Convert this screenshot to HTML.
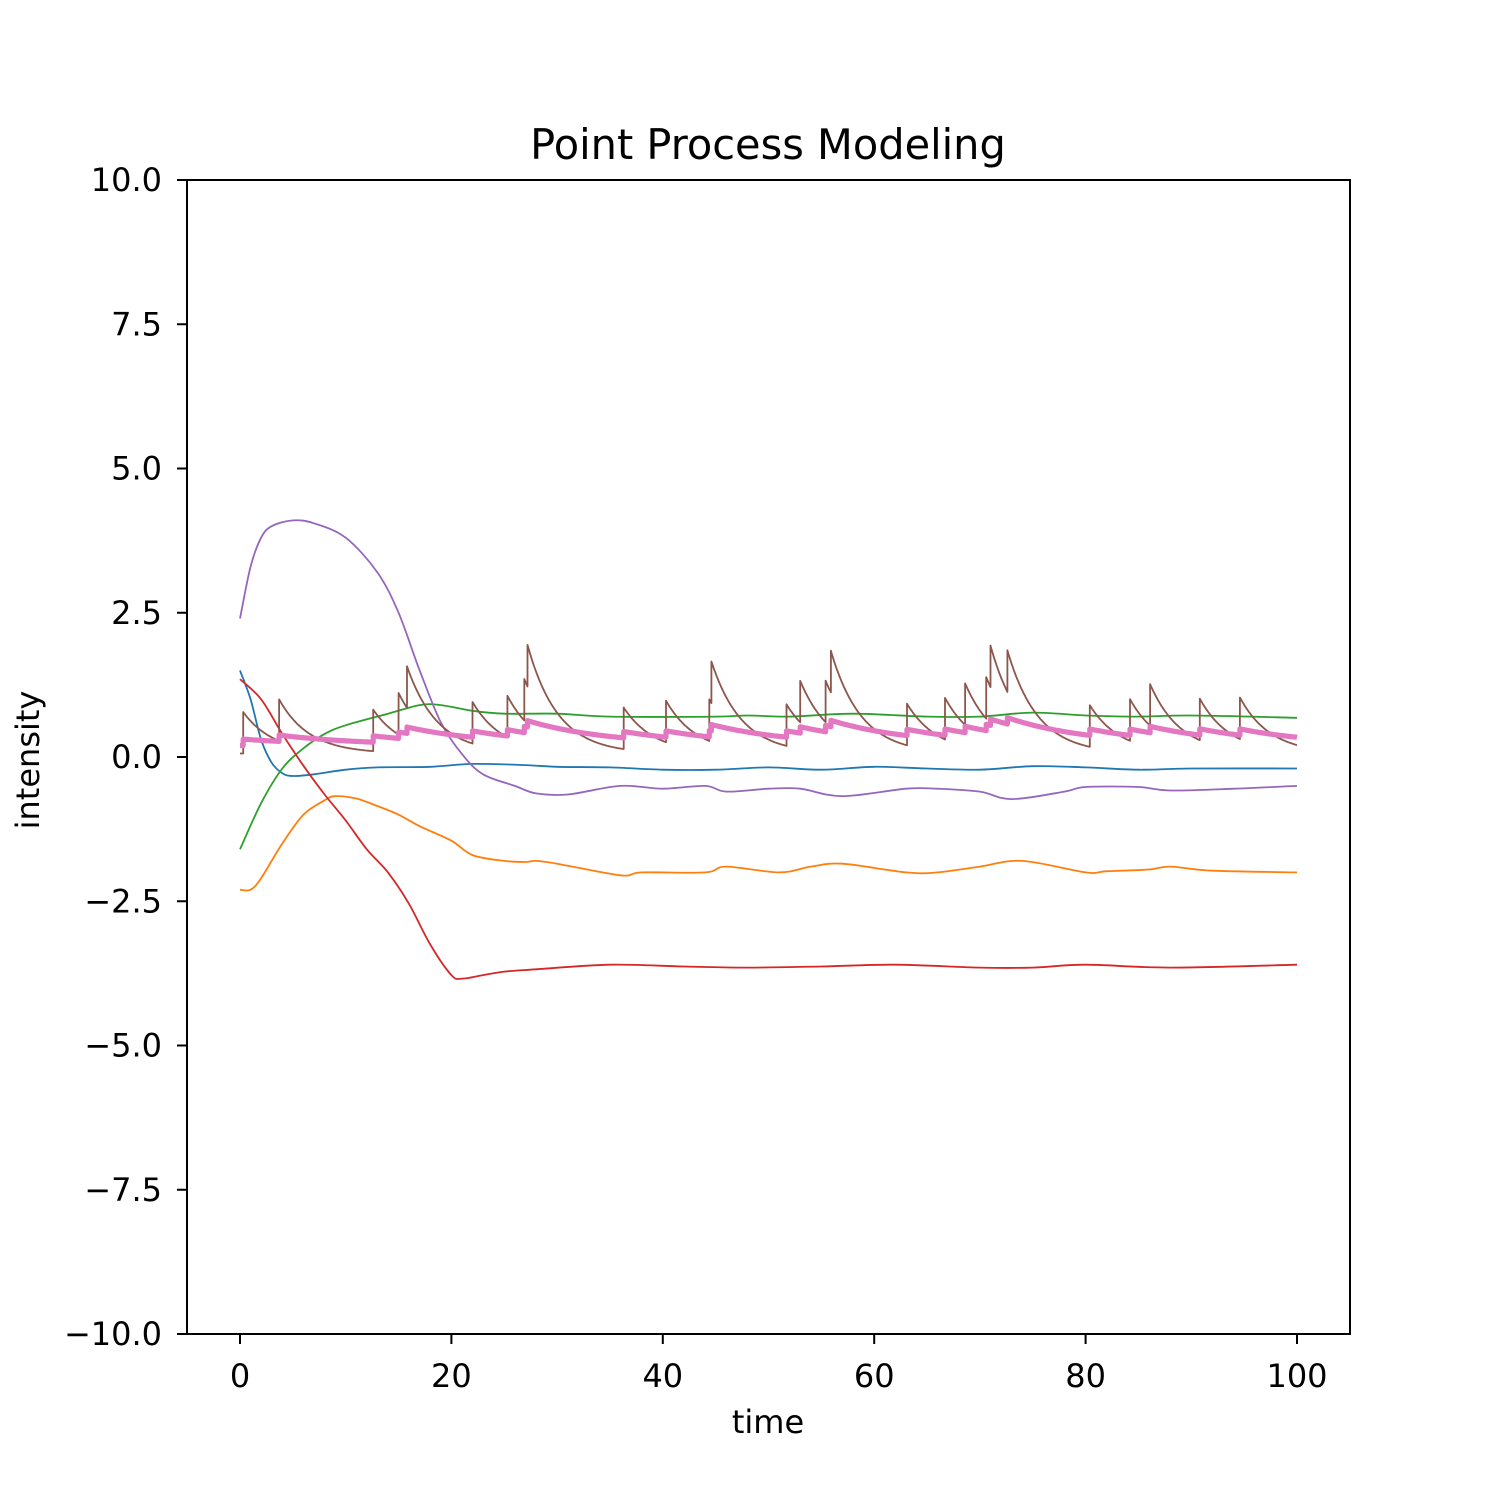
<!DOCTYPE html>
<html><head><meta charset="utf-8"><style>body{margin:0;background:#fff}svg text{font-family:"DejaVu Sans","Liberation Sans",sans-serif}</style></head>
<body>
<svg id="chart" width="1500" height="1500" xmlns="http://www.w3.org/2000/svg">
<rect width="1500" height="1500" fill="#fff"/>
<text x="768" y="159" font-size="41.5" text-anchor="middle">Point Process Modeling</text>
<g id="plot"></g>
<g id="axes"></g>
<text x="768" y="1433" font-size="32" text-anchor="middle">time</text>
<text x="39" y="760" font-size="32" text-anchor="middle" transform="rotate(-90 39 760)">intensity</text>
</svg>
<script>
const xTicks=[0,20,40,60,80,100];
const yTicks=[10,7.5,5,2.5,0,-2.5,-5,-7.5,-10];
const yTickLabels=["10.0","7.5","5.0","2.5","0.0","\u22122.5","\u22125.0","\u22127.5","\u221210.0"];
const blue=[[0,1.5],[1,1.0],[2,0.3],[3,-0.1],[4,-0.28],[5,-0.33],[7,-0.3],[10,-0.22],[13,-0.18],[18,-0.17],[22,-0.12],[27,-0.14],[30,-0.17],[35,-0.18],[40,-0.22],[45,-0.22],[50,-0.18],[55,-0.22],[60,-0.17],[65,-0.2],[70,-0.22],[75,-0.16],[80,-0.18],[85,-0.22],[90,-0.2],[100,-0.2]];
const orange=[[0,-2.3],[1,-2.3],[2,-2.1],[4,-1.5],[6,-1.0],[8,-0.75],[9,-0.68],[11,-0.72],[13,-0.85],[15,-1.0],[17,-1.2],[20,-1.45],[22,-1.7],[25,-1.8],[27,-1.82],[28,-1.8],[30,-1.85],[36,-2.05],[38,-2.0],[44,-2.0],[46,-1.9],[51,-2.0],[54,-1.9],[57,-1.85],[63,-2.0],[66,-2.0],[70,-1.9],[74,-1.8],[80,-2.0],[82,-1.98],[86,-1.95],[88,-1.9],[92,-1.97],[100,-2.0]];
const green=[[0,-1.6],[2,-0.8],[4,-0.2],[6,0.15],[8,0.4],[10,0.55],[14,0.75],[17,0.9],[19,0.9],[22,0.8],[25,0.75],[30,0.75],[35,0.7],[45,0.7],[48,0.72],[52,0.7],[58,0.75],[65,0.7],[70,0.7],[75,0.77],[80,0.72],[85,0.7],[90,0.72],[100,0.68]];
const red=[[0,1.35],[2,1.0],[4,0.4],[6,-0.15],[8,-0.65],[10,-1.1],[12,-1.6],[14,-2.0],[16,-2.55],[18,-3.25],[20,-3.78],[21,-3.84],[23,-3.78],[25,-3.72],[28,-3.68],[35,-3.6],[42,-3.63],[48,-3.65],[55,-3.63],[62,-3.6],[70,-3.65],[75,-3.65],[80,-3.6],[88,-3.65],[100,-3.6]];
const purple=[[0,2.4],[1,3.3],[2,3.8],[3,4.0],[5,4.1],[7,4.05],[10,3.8],[13,3.2],[15,2.5],[17,1.5],[19,0.6],[21,0.05],[23,-0.3],[26,-0.5],[28,-0.63],[31,-0.65],[36,-0.5],[40,-0.55],[44,-0.5],[46,-0.6],[50,-0.55],[53,-0.55],[57,-0.68],[63,-0.55],[66,-0.55],[70,-0.6],[73,-0.73],[78,-0.6],[80,-0.52],[85,-0.52],[88,-0.58],[94,-0.55],[100,-0.5]];
const events=[0.3,3.7,12.6,15.0,15.8,22.0,25.3,26.9,27.2,36.3,40.3,44.4,44.6,51.7,53.0,55.4,55.9,63.1,66.7,68.6,70.6,71.0,72.6,80.4,84.2,86.1,90.8,94.6];
const brownParams=[0.06,0.72,0.35];
const pinkParams=[0.2,0.11,0.13];
const X=t=>240+t*10.57, Y=v=>757-v*57.7;
const NS="http://www.w3.org/2000/svg";
const plot=document.getElementById('plot'), axes=document.getElementById('axes');
function path(d,color,w,name){
 const p=document.createElementNS(NS,'path');
 p.setAttribute('d',d);
 p.setAttribute('fill','none');p.setAttribute('stroke',color);p.setAttribute('stroke-width',w);p.setAttribute('stroke-linejoin','round');
 
 
 plot.appendChild(p);
}
function smooth(pts,color,w,name){
 const P=pts.map(q=>[X(q[0]),Y(q[1])]);
 let d='M'+P[0][0].toFixed(1)+','+P[0][1].toFixed(1);
 for(let i=0;i<P.length-1;i++){
  const p0=P[Math.max(0,i-1)],p1=P[i],p2=P[i+1],p3=P[Math.min(P.length-1,i+2)];
  const c1=[p1[0]+(p2[0]-p0[0])/6,p1[1]+(p2[1]-p0[1])/6],c2=[p2[0]-(p3[0]-p1[0])/6,p2[1]-(p3[1]-p1[1])/6];
  d+='C'+c1.map(v=>v.toFixed(1)).join(',')+' '+c2.map(v=>v.toFixed(1)).join(',')+' '+p2.map(v=>v.toFixed(1)).join(',');
 }
 path(d,color,w,name);
}
function hawkes(par,color,w,name){
 let ts=[0];for(let i=1;i<=1000;i++)ts.push(i/10);
 events.forEach(e=>{ts.push(e-1e-4);ts.push(e);});ts.sort((a,b)=>a-b);
 const pts=ts.map(t=>{let v=par[0];events.forEach(e=>{if(e<=t)v+=par[1]*Math.exp(-par[2]*(t-e));});return [t,v];});
 path('M'+pts.map(q=>X(q[0]).toFixed(1)+','+Y(q[1]).toFixed(1)).join('L'),color,w,name);
}
smooth(blue,'#1f77b4',1.8,'series-blue');
smooth(orange,'#ff7f0e',1.8,'series-orange');
smooth(green,'#2ca02c',1.8,'series-green');
smooth(red,'#d62728',1.8,'series-red');
smooth(purple,'#9467bd',1.8,'series-purple');
hawkes(brownParams,'#8c564b',1.8,'series-brown');
hawkes(pinkParams,'#e377c2',5.2,'series-pink');
const fr=document.createElementNS(NS,'rect');
fr.setAttribute('x',187);fr.setAttribute('y',180);fr.setAttribute('width',1163);fr.setAttribute('height',1154);
fr.setAttribute('fill','none');fr.setAttribute('stroke','#000');fr.setAttribute('stroke-width',2);


axes.appendChild(fr);
xTicks.forEach(t=>{
 const l=document.createElementNS(NS,'line');l.setAttribute('x1',X(t));l.setAttribute('x2',X(t));l.setAttribute('y1',1334);l.setAttribute('y2',1344);l.setAttribute('stroke','#000');l.setAttribute('stroke-width',2);
 
 
 axes.appendChild(l);
 const tx=document.createElementNS(NS,'text');tx.setAttribute('x',X(t));tx.setAttribute('y',1387);tx.setAttribute('font-size',32);tx.setAttribute('text-anchor','middle');tx.textContent=t;
 
 
 axes.appendChild(tx);
});
yTicks.forEach((v,i)=>{
 const l=document.createElementNS(NS,'line');l.setAttribute('x1',177);l.setAttribute('x2',187);l.setAttribute('y1',Y(v));l.setAttribute('y2',Y(v));l.setAttribute('stroke','#000');l.setAttribute('stroke-width',2);
 
 
 axes.appendChild(l);
 const tx=document.createElementNS(NS,'text');tx.setAttribute('x',162);tx.setAttribute('y',Y(v)+11);tx.setAttribute('font-size',32);tx.setAttribute('text-anchor','end');tx.textContent=yTickLabels[i];
 
 
 axes.appendChild(tx);
});
</script>
</body></html>
